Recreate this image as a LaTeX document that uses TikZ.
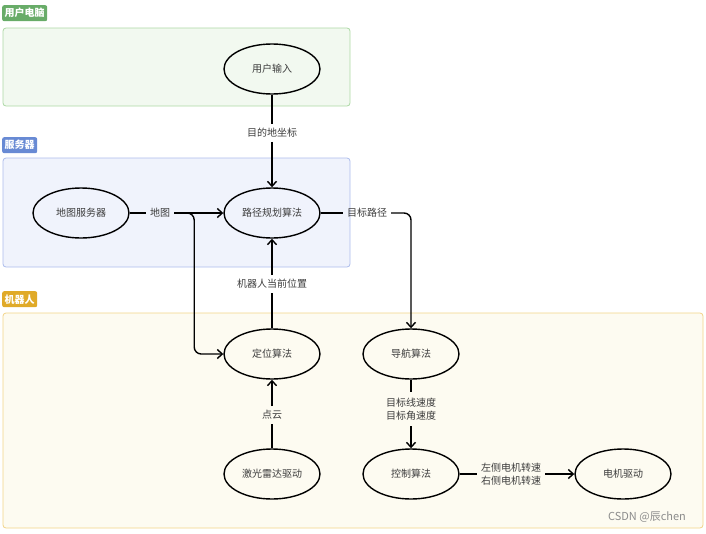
\documentclass[tikz,border=0pt]{standalone}
\usepackage{fontspec}
\setmainfont{Noto Sans CJK SC}
\usepackage{tikz}
\usetikzlibrary{shapes.geometric,arrows.meta,calc}

\definecolor{pcgreen}{RGB}{104,172,104}
\definecolor{pcline}{RGB}{172,216,164}
\definecolor{pcfill}{RGB}{242,249,240}
\definecolor{svblue}{RGB}{104,138,212}
\definecolor{svline}{RGB}{172,188,236}
\definecolor{svfill}{RGB}{240,243,252}
\definecolor{rbgold}{RGB}{224,170,40}
\definecolor{rbline}{RGB}{242,212,136}
\definecolor{rbfill}{RGB}{253,251,241}
\definecolor{txtgray}{RGB}{60,60,60}

\tikzset{
  module/.style={ellipse,draw=black,line width=1.4pt,minimum width=96pt,minimum height=50pt,
    inner sep=0pt,font=\fontsize{10}{12}\selectfont,text=txtgray},
  grouplabel/.style={rounded corners=2pt,anchor=north west,text=white,inner sep=2.5pt,
    minimum height=16pt,font=\fontsize{10}{12}\selectfont\bfseries},
  groupbox/.style={rounded corners=3pt,line width=0.8pt},
  flowtext/.style={font=\fontsize{10}{13}\selectfont,text=txtgray,align=center,inner sep=4pt},
  flow/.style={line width=1.4pt,-{Straight Barb[length=5pt,width=9pt]}},
  plain/.style={line width=1.4pt},
}

\begin{document}
\begin{tikzpicture}[x=1pt,y=-1pt]
  \useasboundingbox (0,0) rectangle (706,533);

  % groups
  \draw[groupbox,draw=pcline,fill=pcfill] (3,28) rectangle (350,106);
  \node[grouplabel,fill=pcgreen] (lpc) at (2,5) {用户电脑};
  \draw[groupbox,draw=svline,fill=svfill] (3,158) rectangle (350,267);
  \node[grouplabel,fill=svblue] (lsv) at (2,137) {服务器};
  \draw[groupbox,draw=rbline,fill=rbfill] (3,313) rectangle (703,528);
  \node[grouplabel,fill=rbgold] (lrb) at (2,291) {机器人};

  % modules
  \node[module] (input) at (272,69) {用户输入};
  \node[module] (mapsrv) at (81,213) {地图服务器};
  \node[module] (plan) at (272,213) {路径规划算法};
  \node[module] (loc) at (272,354) {定位算法};
  \node[module] (nav) at (411,354) {导航算法};
  \node[module] (lidar) at (272,474) {激光雷达驱动};
  \node[module] (ctrl) at (411,474) {控制算法};
  \node[module] (motor) at (623,474) {电机驱动};

  % labels on connectors
  \node[flowtext] (tgoal) at (272,133) {目的地坐标};
  \node[flowtext] (tmap) at (160,213) {地图};
  \node[flowtext] (tpath) at (367,213) {目标路径};
  \node[flowtext] (tpose) at (272,284) {机器人当前位置};
  \node[flowtext] (tcloud) at (272,415) {点云};
  \node[flowtext,inner sep=6pt] (tvel) at (411,409) {目标线速度\\目标角速度};
  \node[flowtext] (twheel) at (511,474) {左侧电机转速\\右侧电机转速};

  % connectors
  \draw[plain] (input) -- (tgoal);
  \draw[flow] (tgoal) -- (plan);
  \draw[plain] (mapsrv) -- (tmap);
  \draw[flow] (tmap) -- (plan);
  \draw[flow,rounded corners=7pt] (tmap.east) -- ($(tmap.east)+(20,0)$) |- (loc.west);
  \draw[plain] (plan) -- (tpath);
  \draw[flow,rounded corners=7pt] (tpath.east) -| (nav.north);
  \draw[plain] (loc) -- (tpose);
  \draw[flow] (tpose) -- (plan);
  \draw[plain] (lidar) -- (tcloud);
  \draw[flow] (tcloud) -- (loc);
  \draw[plain] (nav) -- (tvel);
  \draw[flow] (tvel) -- (ctrl);
  \draw[plain] (ctrl) -- (twheel);
  \draw[flow] (twheel) -- (motor);

  \node[font=\fontsize{11}{13}\selectfont,text=black!45] (mark) at (647,517) {CSDN @辰chen};
\end{tikzpicture}
\end{document}
